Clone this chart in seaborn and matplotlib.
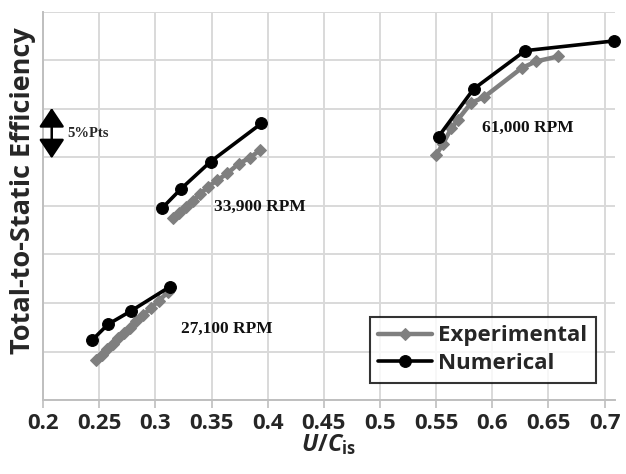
import matplotlib
matplotlib.use("Agg")
import matplotlib.pyplot as plt
import seaborn as sns
import pandas as pd

# U/C_is and total-to-static efficiency (% pts, axis is unlabelled)
exp_27100_u = [0.247, 0.252, 0.257, 0.262, 0.267, 0.272, 0.277, 0.283, 0.289, 0.296, 0.303, 0.311]
exp_27100_eff = [44.1, 44.65, 45.25, 45.8, 46.35, 46.9, 47.45, 48.1, 48.75, 49.5, 50.25, 51.1]
exp_33900_u = [0.316, 0.321, 0.327, 0.333, 0.340, 0.347, 0.355, 0.364, 0.374, 0.384, 0.393]
exp_33900_eff = [58.75, 59.25, 59.85, 60.5, 61.25, 62.0, 62.65, 63.35, 64.35, 64.95, 65.75]
exp_61000_u = [0.550, 0.556, 0.5635, 0.569, 0.581, 0.593, 0.626, 0.639, 0.6585]
exp_61000_eff = [65.25, 66.4, 68.0, 68.85, 70.6, 71.25, 74.2, 74.9, 75.4]

num_27100_u = [0.2438, 0.2577, 0.2785, 0.3131]
num_27100_eff = [46.2, 47.8, 49.2, 51.7]
num_33900_u = [0.3057, 0.3226, 0.3491, 0.3943]
num_33900_eff = [59.75, 61.75, 64.57, 68.5]
num_61000_u = [0.5521, 0.5833, 0.6293, 0.708]
num_61000_eff = [67.15, 72.05, 76.0, 77.0]

speed_labels = ["27,100 RPM", "33,900 RPM", "61,000 RPM"]
label_pos = [(0.3225, 47.3), (0.352, 59.9), (0.591, 68.0)]
x_ticks = [0.2, 0.25, 0.3, 0.35, 0.4, 0.45, 0.5, 0.55, 0.6, 0.65, 0.7]

sns.set_theme(style="whitegrid")
plt.rcParams["font.family"] = ["Open Sans", "DejaVu Sans"]
plt.rcParams["mathtext.fontset"] = "custom"
plt.rcParams["mathtext.it"] = "Open Sans:italic:bold"
plt.rcParams["mathtext.bf"] = "Open Sans:bold"
plt.rcParams["mathtext.rm"] = "Open Sans:bold"

fig, ax = plt.subplots(figsize=(6.26, 4.74), dpi=100)
fig.subplots_adjust(left=0.069, right=0.982, bottom=0.156, top=0.975)

exp_sets = [(exp_27100_u, exp_27100_eff), (exp_33900_u, exp_33900_eff), (exp_61000_u, exp_61000_eff)]
num_sets = [(num_27100_u, num_27100_eff), (num_33900_u, num_33900_eff), (num_61000_u, num_61000_eff)]

for i, (u, eff) in enumerate(exp_sets):
    df = pd.DataFrame({"u": u, "eff": eff})
    sns.lineplot(data=df, x="u", y="eff", ax=ax, color="#7f7f7f", lw=3.2,
                 marker="D", markersize=6.5, markeredgecolor="#7f7f7f",
                 sort=False, label="Experimental" if i == 0 else None, zorder=3)
for i, (u, eff) in enumerate(num_sets):
    df = pd.DataFrame({"u": u, "eff": eff})
    sns.lineplot(data=df, x="u", y="eff", ax=ax, color="black", lw=2.6,
                 marker="o", markersize=8.5, markeredgecolor="black",
                 sort=False, label="Numerical" if i == 0 else None, zorder=4,
                 clip_on=False)

for txt, (x, y) in zip(speed_labels, label_pos):
    ax.text(x, y, txt, fontsize=12.5, fontweight="bold", va="center",
            family=["Liberation Serif"], color="#111111")

# 5 %pts scale arrow
ax.annotate("", xy=(0.2076, 64.9), xytext=(0.2076, 70.1),
            arrowprops=dict(arrowstyle="<|-|>,head_length=0.9,head_width=0.6",
                            color="black", lw=1.8, mutation_scale=13, shrinkA=0, shrinkB=0))
ax.text(0.2215, 67.5, "5%Pts", fontsize=10.5, fontweight="bold", va="center",
        family=["Liberation Serif"])

ax.set_xlim(0.2, 0.709)
ax.set_ylim(40, 80)
ax.set_xticks(x_ticks)
ax.set_xticklabels([f"{t:g}" for t in x_ticks], fontsize=16, fontweight="bold")
ax.set_yticks(range(40, 81, 5))
ax.set_yticklabels([])
ax.grid(True, color="#d9d9d9", lw=1.4)
ax.tick_params(axis="x", which="both", bottom=True, length=6, width=1.2,
               color="#bfbfbf", pad=3)
ax.tick_params(axis="y", length=0)
for side in ["top", "right"]:
    ax.spines[side].set_visible(False)
for side in ["left", "bottom"]:
    ax.spines[side].set_color("#bfbfbf")
    ax.spines[side].set_linewidth(1.4)

ax.set_xlabel(r"$\mathit{U/C}_{\mathbf{is}}$", fontsize=17, labelpad=-1)
ax.set_ylabel("Total-to-Static Efficiency", fontsize=19.5, fontweight="bold")
ax.yaxis.set_label_coords(-0.013, 0.54)

leg = ax.legend(loc="lower right", bbox_to_anchor=(0.968, 0.044), fontsize=16,
                frameon=True, fancybox=False, edgecolor="black", handlelength=2.4,
                borderpad=0.4, labelspacing=0.3, handletextpad=0.3, borderaxespad=0)
leg.get_frame().set_linewidth(1.5)
for t in leg.get_texts():
    t.set_fontweight("bold")

fig.savefig("out.png", dpi=100)
